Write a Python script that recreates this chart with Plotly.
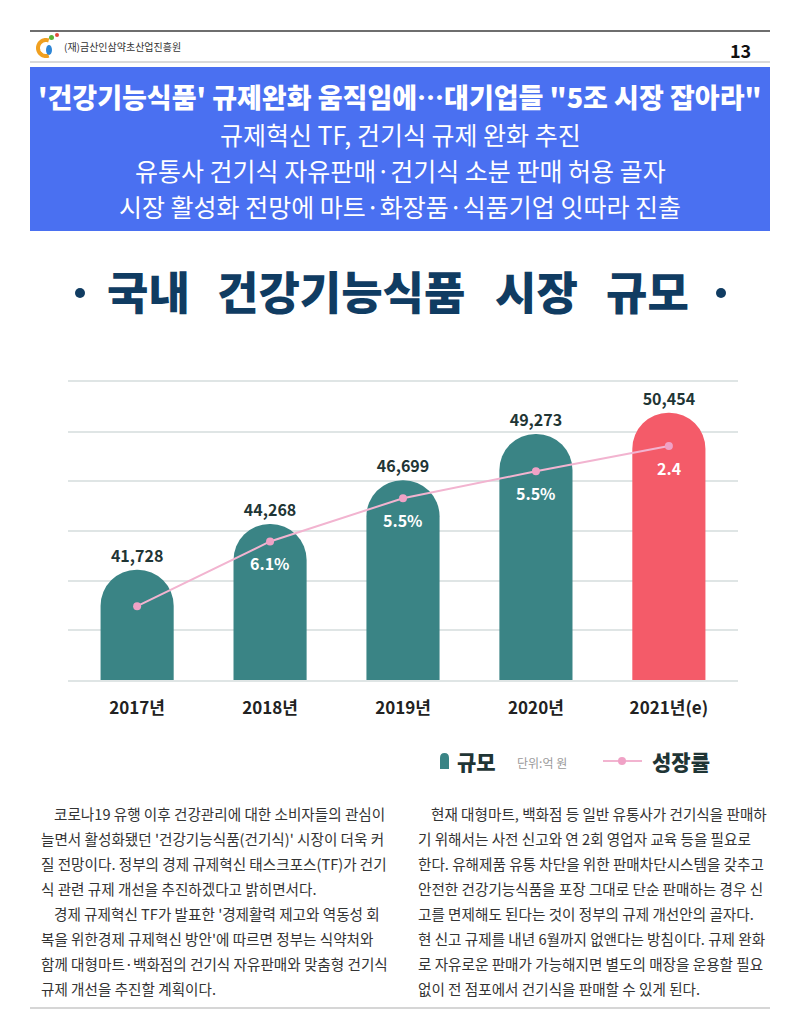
import math
import plotly.graph_objects as go

# ---------------- data ----------------
years = ["2017년", "2018년", "2019년", "2020년", "2021년(e)"]
market_size = [41728, 44268, 46699, 49273, 50454]          # 단위: 억 원
growth_labels = ["", "6.1%", "5.5%", "5.5%", "2.4"]
growth_line_level = [39700, 43300, 45700, 47200, 48600]     # apparent height of the growth line (chart units)
bar_colors = ["#3a8485", "#3a8485", "#3a8485", "#3a8485", "#f45b69"]

headline = "'건강기능식품' 규제완화 움직임에…대기업들 \"5조 시장 잡아라\""
subheads = [
    "규제혁신 TF, 건기식 규제 완화 추진",
    "유통사 건기식 자유판매·건기식 소분 판매 허용 골자",
    "시장 활성화 전망에 마트·화장품·식품기업 잇따라 진출",
]
chart_title_words = ["국내", "건강기능식품", "시장", "규모"]

left_col = [
    "코로나19 유행 이후 건강관리에 대한 소비자들의 관심이",
    "늘면서 활성화됐던 '건강기능식품(건기식)' 시장이 더욱 커",
    "질 전망이다. 정부의 경제 규제혁신 태스크포스(TF)가 건기",
    "식 관련 규제 개선을 추진하겠다고 밝히면서다.",
    "경제 규제혁신 TF가 발표한 '경제활력 제고와 역동성 회",
    "복을 위한경제 규제혁신 방안'에 따르면 정부는 식약처와",
    "함께 대형마트·백화점의 건기식 자유판매와 맞춤형 건기식",
    "규제 개선을 추진할 계획이다.",
]
left_indent = [True, False, False, False, True, False, False, False]
right_col = [
    "현재 대형마트, 백화점 등 일반 유통사가 건기식을 판매하",
    "기 위해서는 사전 신고와 연 2회 영업자 교육 등을 필요로",
    "한다. 유해제품 유통 차단을 위한 판매차단시스템을 갖추고",
    "안전한 건강기능식품을 포장 그대로 단순 판매하는 경우 신",
    "고를 면제해도 된다는 것이 정부의 규제 개선안의 골자다.",
    "현 신고 규제를 내년 6월까지 없앤다는 방침이다. 규제 완화",
    "로 자유로운 판매가 가능해지면 별도의 매장을 운용할 필요",
    "없이 전 점포에서 건기식을 판매할 수 있게 된다.",
]
right_indent = [True, False, False, False, False, False, False, False]

# ---------------- layout helpers ----------------
W, H = 800, 1036
def X(px):
    return px / W
def Y(py):
    return 1 - py / H

FONT = "Noto Sans CJK KR, Noto Sans, sans-serif"
HEAVY = "Noto Sans CJK KR Black, Noto Sans CJK KR, sans-serif"
TEAL_DARK = "#1f3535"
NAVY = "#103c62"
GRID = "#dfe5e5"

fig = go.Figure()

fig.add_trace(go.Bar(
    x=years, y=market_size, width=0.55,
    marker=dict(color=bar_colors, cornerradius="50%", line_width=0),
    text=[f"{v:,}" for v in market_size],
    textposition="outside",
    textfont=dict(family=FONT, size=16, color=TEAL_DARK, weight="bold"),
    cliponaxis=False, showlegend=False, hoverinfo="skip",
))

fig.add_trace(go.Scatter(
    x=years, y=growth_line_level, mode="lines+markers",
    line=dict(color="#f2b4d0", width=2),
    marker=dict(size=8, color="#f0a2c6"),
    showlegend=False, hoverinfo="skip", cliponaxis=False,
))

annotations = []
for yr, lvl, lab in zip(years, growth_line_level, growth_labels):
    if lab:
        annotations.append(dict(x=yr, y=lvl, xref="x", yref="y", text=f"<b>{lab}</b>",
                                showarrow=False, yshift=-22,
                                font=dict(family=FONT, size=16, color="white")))

shapes = []
# header lines
shapes.append(dict(type="line", xref="paper", yref="paper", x0=X(30), x1=X(770), y0=Y(31), y1=Y(31),
                   line=dict(color="#6e6e6e", width=2)))
shapes.append(dict(type="line", xref="paper", yref="paper", x0=X(30), x1=X(770), y0=Y(62), y1=Y(62),
                   line=dict(color="#b5b5b5", width=1)))
# blue headline box
shapes.append(dict(type="rect", xref="paper", yref="paper", x0=X(30), x1=X(770), y0=Y(67), y1=Y(231),
                   fillcolor="#4a70f1", line_width=0, layer="below"))
# bottom line
shapes.append(dict(type="line", xref="paper", yref="paper", x0=X(30), x1=X(770), y0=Y(1008), y1=Y(1008),
                   line=dict(color="#c8c8c8", width=1.5)))

# logo (simple drawing)
cx, cy, r = 46, 48, 8
pts = []
for k in range(0, 41):
    a = math.radians(70 + k * 220 / 40)
    pts.append((cx + r * math.cos(a), cy - r * math.sin(a)))
path = "M " + " L ".join(f"{X(px):.5f},{Y(py):.5f}" for px, py in pts)
shapes.append(dict(type="path", xref="paper", yref="paper", path=path,
                   line=dict(color="#f0a020", width=4)))
shapes.append(dict(type="circle", xref="paper", yref="paper", x0=X(46), x1=X(52), y0=Y(45), y1=Y(55),
                   fillcolor="#2e86d6", line_width=0))
shapes.append(dict(type="circle", xref="paper", yref="paper", x0=X(49), x1=X(54), y0=Y(35), y1=Y(40),
                   fillcolor="#5bb338", line_width=0))
shapes.append(dict(type="circle", xref="paper", yref="paper", x0=X(55), x1=X(59), y0=Y(33), y1=Y(37),
                   fillcolor="#e24a3a", line_width=0))

# legend icons
shapes.append(dict(type="path", xref="paper", yref="paper",
                   path=(f"M {X(440):.5f},{Y(769):.5f} L {X(440):.5f},{Y(758):.5f} "
                         f"Q {X(440):.5f},{Y(753):.5f} {X(444.5):.5f},{Y(753):.5f} "
                         f"Q {X(449):.5f},{Y(753):.5f} {X(449):.5f},{Y(758):.5f} "
                         f"L {X(449):.5f},{Y(769):.5f} Z"),
                   fillcolor="#3a8485", line_width=0))
shapes.append(dict(type="line", xref="paper", yref="paper", x0=X(603), x1=X(642), y0=Y(761), y1=Y(761),
                   line=dict(color="#f2b4d0", width=2)))
shapes.append(dict(type="circle", xref="paper", yref="paper", x0=X(618), x1=X(626), y0=Y(757), y1=Y(765),
                   fillcolor="#f0a2c6", line_width=0))

# header texts
annotations.append(dict(xref="paper", yref="paper", x=X(62), y=Y(47), xanchor="left", yanchor="middle",
                        text="(재)금산인삼약초산업진흥원", showarrow=False,
                        font=dict(family=FONT, size=10, color="#333333")))
annotations.append(dict(xref="paper", yref="paper", x=X(753), y=Y(50), xanchor="right", yanchor="middle",
                        text="<b>13</b>", showarrow=False,
                        font=dict(family=FONT, size=18, color="#111111")))

# headline box texts
annotations.append(dict(xref="paper", yref="paper", x=X(400), y=Y(97), xanchor="center", yanchor="middle",
                        text=headline, showarrow=False,
                        font=dict(family=HEAVY, size=27, color="white", weight=900)))
for i, t in enumerate(subheads):
    annotations.append(dict(xref="paper", yref="paper", x=X(400), y=Y(134 + 36 * i), xanchor="center",
                            yanchor="middle", text=t, showarrow=False,
                            font=dict(family=FONT, size=25, color="white")))

# chart title (word by word, wide spacing as in the reference)
for word, cxw in zip(chart_title_words, (148, 341, 536, 647)):
    annotations.append(dict(xref="paper", yref="paper", x=X(cxw), y=Y(291), xanchor="center",
                            yanchor="middle", text=word, showarrow=False,
                            font=dict(family=HEAVY, size=45, color=NAVY, weight=900)))
for dx in (80, 721):
    shapes.append(dict(type="circle", xref="paper", yref="paper", x0=X(dx - 5), x1=X(dx + 5),
                       y0=Y(288), y1=Y(298), fillcolor=NAVY, line_width=0))

# legend texts
annotations.append(dict(xref="paper", yref="paper", x=X(455), y=Y(761), xanchor="left", yanchor="middle",
                        text="규모", showarrow=False,
                        font=dict(family=HEAVY, size=21, color=TEAL_DARK, weight=900)))
annotations.append(dict(xref="paper", yref="paper", x=X(515), y=Y(762), xanchor="left", yanchor="middle",
                        text="단위:억 원", showarrow=False,
                        font=dict(family=FONT, size=12, color="#9a9a9a")))
annotations.append(dict(xref="paper", yref="paper", x=X(650), y=Y(761), xanchor="left", yanchor="middle",
                        text="성장률", showarrow=False,
                        font=dict(family=HEAVY, size=21, color=TEAL_DARK, weight=900)))

# body text columns
for col, indents, x_left in ((left_col, left_indent, 39), (right_col, right_indent, 416)):
    for i, (line, ind) in enumerate(zip(col, indents)):
        annotations.append(dict(xref="paper", yref="paper", x=X(x_left + (13 if ind else 0)),
                                y=Y(813 + 25.1 * i), xanchor="left", yanchor="middle",
                                text=line, showarrow=False,
                                font=dict(family=FONT, size=14.6, color="#333333")))

fig.update_layout(
    width=W, height=H, margin=dict(l=0, r=0, t=0, b=0),
    paper_bgcolor="white", plot_bgcolor="white",
    font=dict(family=FONT),
    shapes=shapes, annotations=annotations,
    xaxis=dict(domain=[X(68), X(738)], type="category", range=[-0.52, 4.52],
               showgrid=False, zeroline=False, ticks="",
               showline=True, linecolor=GRID, linewidth=2, mirror=True, layer="below traces",
               tickfont=dict(family=FONT, size=17, color="#222222", weight="bold"),
               ticklabelstandoff=12, fixedrange=True),
    yaxis=dict(domain=[Y(680), Y(382)], range=[35600, 52160], tick0=35600, dtick=2760,
               showticklabels=False, showgrid=True, gridcolor=GRID, gridwidth=2,
               zeroline=False, showline=False, fixedrange=True),
    bargap=0.45,
)

fig.write_html("out.html")
